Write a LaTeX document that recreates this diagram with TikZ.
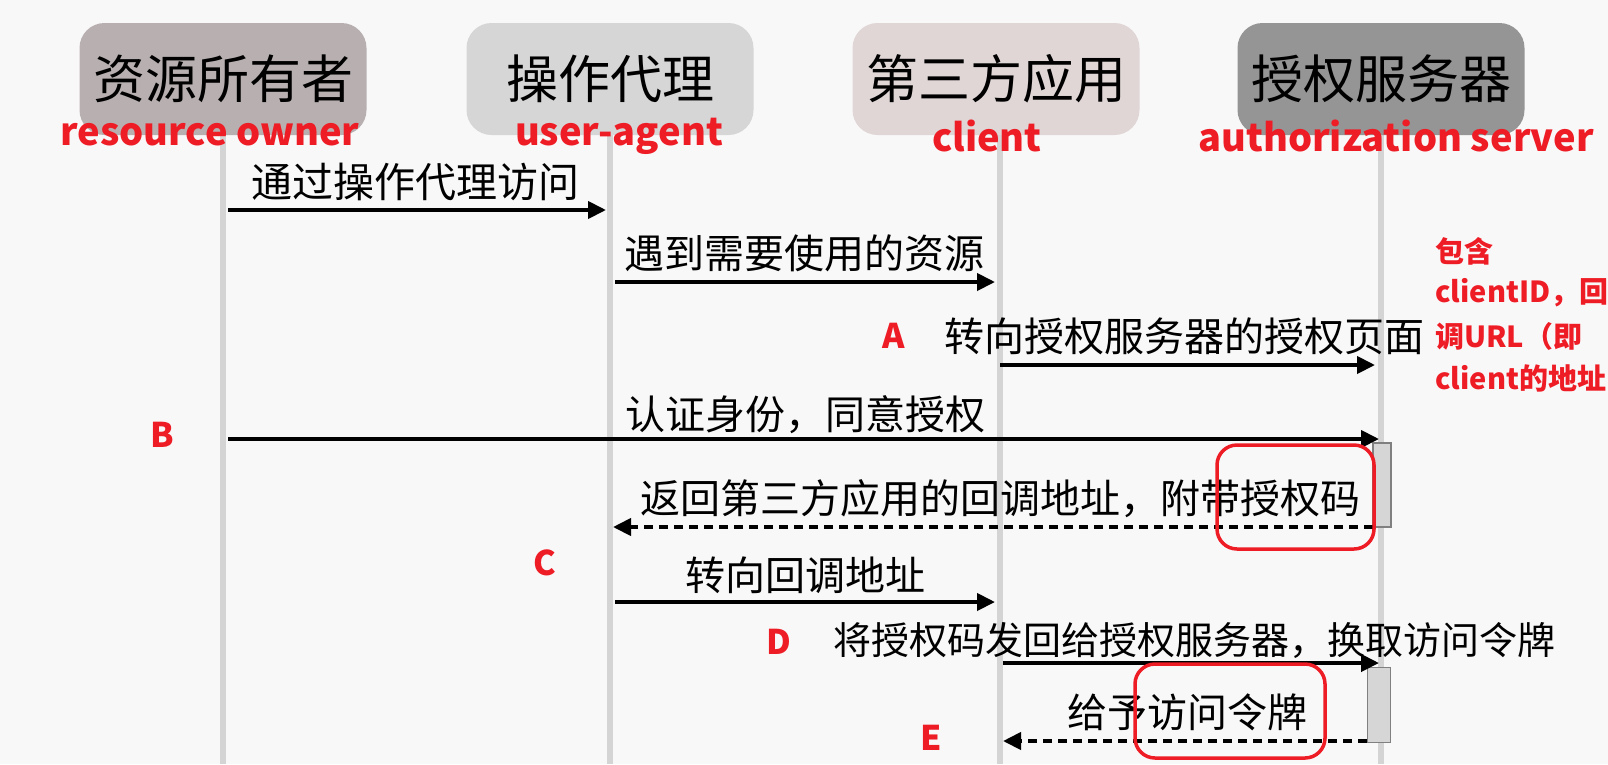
\documentclass[tikz,border=0pt]{standalone}
\usepackage{fontspec}
\newfontfamily\cjk{Noto Sans CJK SC}
\usetikzlibrary{arrows.meta}
\definecolor{bg}{HTML}{F9F8F9}
\definecolor{cA}{HTML}{B8B0B0}
\definecolor{cB}{HTML}{D6D6D6}
\definecolor{cC}{HTML}{E0D6D6}
\definecolor{cD}{HTML}{959595}
\definecolor{lifec}{HTML}{D4D4D4}
\definecolor{redc}{HTML}{EE1C25}
\tikzset{
  actor/.style={rounded corners=25pt, minimum width=287pt, minimum height=112pt, inner sep=0pt,
    font=\cjk\fontsize{52}{60}\selectfont, text=black},
  life/.style={draw=lifec, line width=6pt},
  role/.style={font=\cjk\bfseries\fontsize{38}{44}\selectfont, text=redc, inner sep=0pt},
  msg/.style={draw=black, line width=4pt, -{Triangle[length=18pt,width=17pt]}},
  ret/.style={msg, dash pattern=on 9pt off 6pt},
  lbl/.style={font=\cjk\fontsize{40}{46}\selectfont, inner sep=0pt},
  lbls/.style={font=\cjk\fontsize{38}{44}\selectfont, inner sep=0pt},
  tag/.style={font=\cjk\bfseries\fontsize{34}{40}\selectfont, text=redc, inner sep=0pt},
  note/.style={font=\cjk\bfseries\fontsize{29}{34}\selectfont, text=redc, inner sep=0pt, anchor=west},
  actbox/.style={draw=gray, fill=cB, line width=1.5pt},
  hl/.style={draw=redc, line width=3.5pt, rounded corners=20pt}
}
\begin{document}
\begin{tikzpicture}[x=1pt,y=-1pt]
\useasboundingbox (0,0) rectangle (1608,764);
\fill[bg] (0,0) rectangle (1608,764);
% lifelines
\coordinate (l1t) at (223,130); \coordinate (l1b) at (223,764);
\coordinate (l2t) at (610,130); \coordinate (l2b) at (610,764);
\coordinate (l3t) at (1000,130); \coordinate (l3b) at (1000,764);
\coordinate (l4t) at (1381,130); \coordinate (l4b) at (1381,764);
\draw[life] (l1t) -- (l1b);
\draw[life] (l2t) -- (l2b);
\draw[life] (l3t) -- (l3b);
\draw[life] (l4t) -- (l4b);
% actors
\node[actor, fill=cA] (ro) at (223,79) {资源所有者};
\node[actor, fill=cB] (ua) at (610,79) {操作代理};
\node[actor, fill=cC] (cl) at (996,79) {第三方应用};
\node[actor, fill=cD] (as) at (1381,79) {授权服务器};
\node[role] (rro) at (210,135) {resource owner};
\node[role] (rua) at (619,136) {user-agent};
\node[role] (rcl) at (987,136) {client};
\node[role] (ras) at (1396,136) {authorization server};
% activation boxes
\node[actbox, minimum width=18pt, minimum height=84pt, inner sep=0pt] (act1) at (1382,485) {};
\node[actbox, minimum width=23pt, minimum height=75pt, inner sep=0pt] (act2) at (1379,705) {};
% message 1
\coordinate (m1a) at (228,210); \coordinate (m1b) at (606,210);
\draw[msg] (m1a) -- (m1b);
\node[lbl, font=\cjk\fontsize{41}{46}\selectfont] (t1) at (415,182) {通过操作代理访问};
% message 2
\coordinate (m2a) at (615,282); \coordinate (m2b) at (995,282);
\draw[msg] (m2a) -- (m2b);
\node[lbl] (t2) at (804,253) {遇到需要使用的资源};
% message 3
\coordinate (m3a) at (1000,365); \coordinate (m3b) at (1375,365);
\draw[msg] (m3a) -- (m3b);
\node[lbl] (t3) at (1184,336) {转向授权服务器的授权页面};
\node[tag] (tA) at (894,336) {A};
% message 4
\coordinate (m4a) at (228,439); \coordinate (m4b) at (1379,439);
\draw[msg] (m4a) -- (m4b);
\node[lbl] (t4) at (805,415) {认证身份，同意授权};
\node[tag] (tB) at (162,435) {B};
% message 5
\coordinate (m5a) at (1373,527); \coordinate (m5b) at (613,527);
\draw[ret] (m5a) -- (m5b);
\node[lbl] (t5) at (1000,499) {返回第三方应用的回调地址，附带授权码};
\node[tag] (tC) at (545,563) {C};
% message 6
\coordinate (m6a) at (615,602); \coordinate (m6b) at (995,602);
\draw[msg] (m6a) -- (m6b);
\node[lbl] (t6) at (805,575) {转向回调地址};
% message 7
\coordinate (m7a) at (1003,663); \coordinate (m7b) at (1379,663);
\draw[msg] (m7a) -- (m7b);
\node[lbls] (t7) at (1194,640) {将授权码发回给授权服务器，换取访问令牌};
\node[tag] (tD) at (779,642) {D};
% message 8
\coordinate (m8a) at (1367,741); \coordinate (m8b) at (1003,741);
\draw[ret] (m8a) -- (m8b);
\node[lbl] (t8) at (1187,712) {给予访问令牌};
\node[tag] (tE) at (931,738) {E};
% highlights
\draw[hl] (1217,445) rectangle (1374,549);
\draw[hl] (1135,664) rectangle (1325,758);
% note
\node[note] (n1) at (1435,251) {包含};
\node[note] (n2) at (1435,293) {clientID，回};
\node[note] (n3) at (1435,336) {调URL（即};
\node[note] (n4) at (1435,378) {client的地址};
\end{tikzpicture}
\end{document}
